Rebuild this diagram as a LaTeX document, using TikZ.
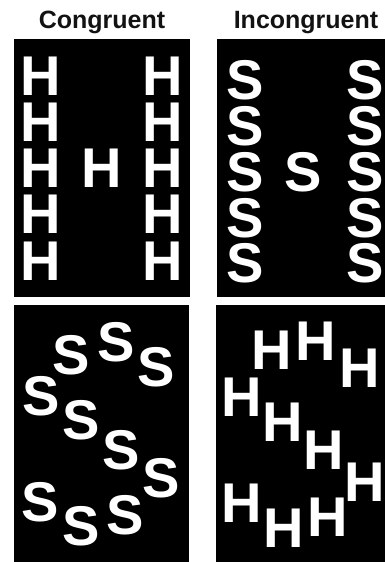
\documentclass[tikz,border=0pt]{standalone}
\usepackage{fontspec}
\setmainfont{Liberation Sans}
\begin{document}
\begin{tikzpicture}[x=1pt,y=-1pt]
\tikzset{
  panel/.style={fill=black},
  letter/.style={text=white, font=\bfseries\fontsize{56}{56}\selectfont, inner sep=0pt, outer sep=0pt, anchor=center},
  title/.style={text=black!93, font=\bfseries\fontsize{25}{25}\selectfont, inner sep=0pt, anchor=base}
}
\useasboundingbox (0,0) rectangle (385,562);
\fill[white] (0,0) rectangle (385,562);
% titles
\node[title] (tcong) at (102,28) {Congruent};
\node[title] (tincong) at (306,28) {Incongruent};
% panels
\fill[panel] (13.5,39) rectangle (190,297);
\fill[panel] (217,39) rectangle (385,297);
\fill[panel] (13.5,305) rectangle (189,562);
\fill[panel] (216,305) rectangle (385,562);
% top-left: congruent H
\foreach \y [count=\i] in {76,122,168,214,261} {
  \node[letter] (hl\i) at (41,\y) {H};
  \node[letter] (hr\i) at (163,\y) {H};
}
\node[letter] (hm) at (102,168) {H};
% top-right: incongruent S
\foreach \y [count=\i] in {80,126,172,218,263} {
  \node[letter] (sl\i) at (245,\y) {S};
  \node[letter] (sr\i) at (365,\y) {S};
}
\node[letter] (sm) at (303,172) {S};
% bottom-left: S arranged
\foreach \x/\y [count=\i] in {71/355,116/342,156/367,41/396,81/420,121/450,161/478,40/502,81/526,125/515} {
  \node[letter] (bs\i) at (\x,\y) {S};
}
% bottom-right: H arranged
\foreach \x/\y [count=\i] in {272/350,316/341,360/368,242/397,283/422,324/450,365/482,242/503,284/528,328/517} {
  \node[letter] (bh\i) at (\x,\y) {H};
}
\end{tikzpicture}
\end{document}
